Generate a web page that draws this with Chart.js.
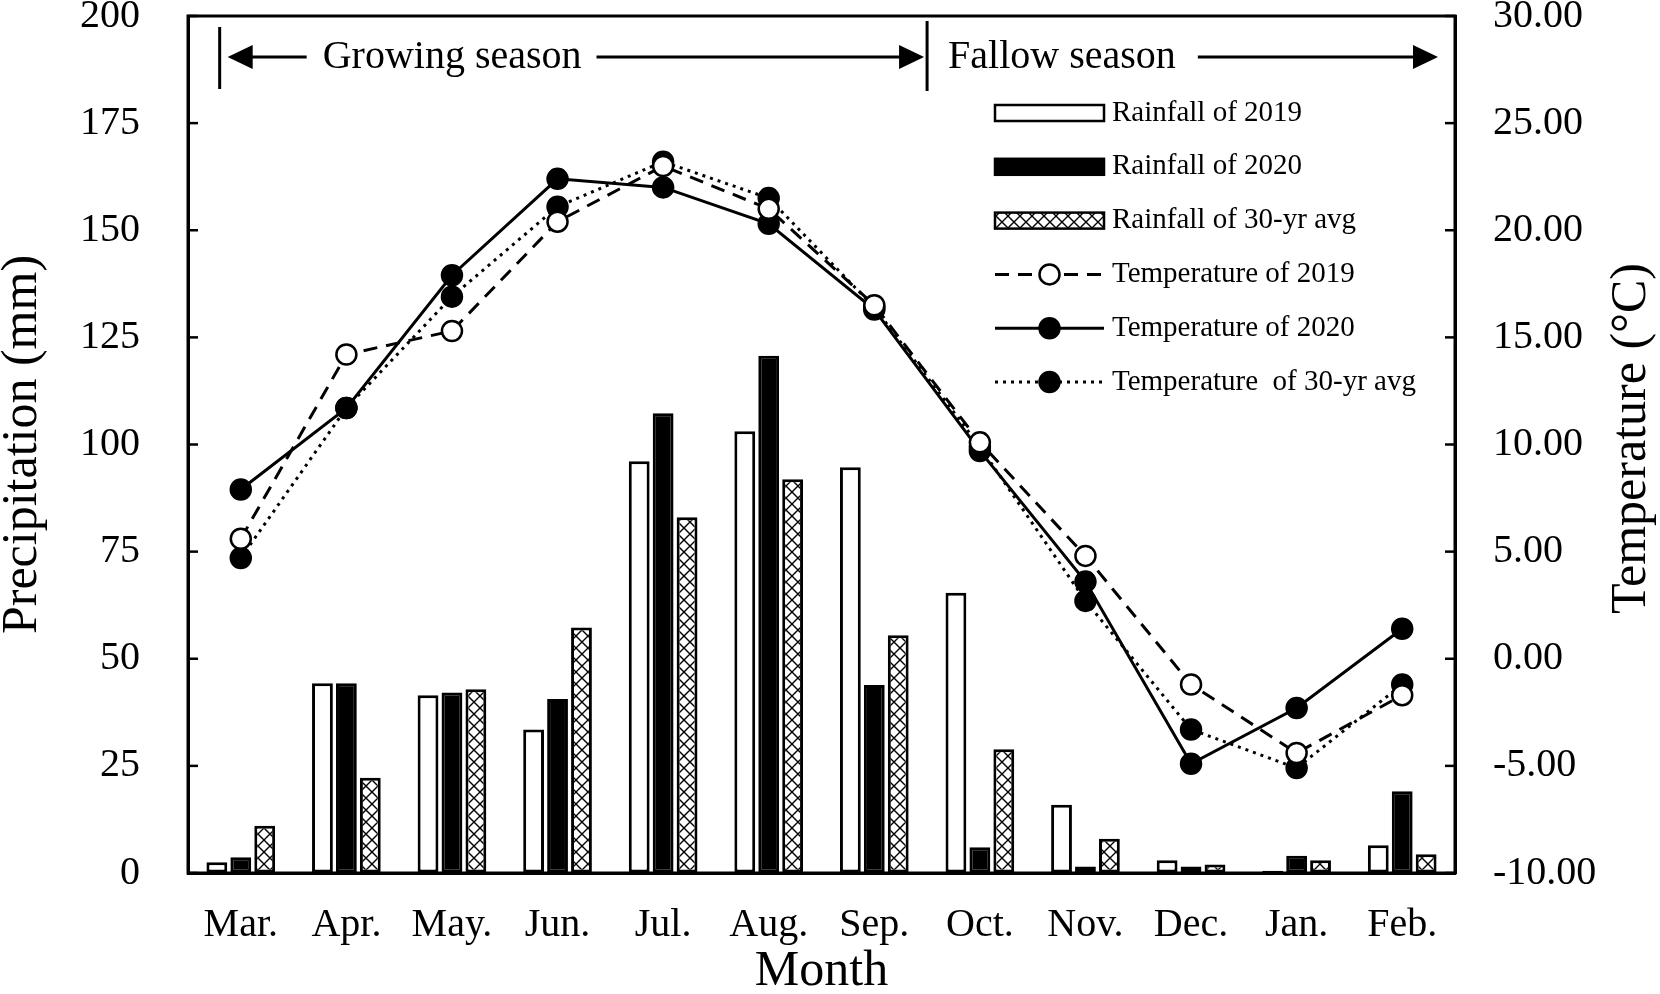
<!DOCTYPE html>
<html>
<head>
<meta charset="utf-8">
<script src="https://cdn.jsdelivr.net/npm/chart.js@4.4.1/dist/chart.umd.min.js"></script>
<style>
  body { margin: 0; background: #fff; }
  #wrap { width: 1660px; height: 994px; }
</style>
</head>
<body>
<div id="wrap"><canvas id="climate" width="1660" height="994"></canvas></div>
<script>
// months, rainfall (mm) and mean temperature (°C)
var months = ["Mar.", "Apr.", "May.", "Jun.", "Jul.", "Aug.", "Sep.", "Oct.", "Nov.", "Dec.", "Jan.", "Feb."];
var rain2019 = [2.5, 44.3, 41.5, 33.5, 96.1, 103.1, 94.7, 65.4, 15.9, 3.0, 0.5, 6.5];
var rain2020 = [3.7, 44.3, 42.1, 40.6, 107.3, 120.7, 43.9, 6.0, 1.5, 1.5, 4.0, 19.1];
var rainAvg = [11.0, 22.2, 42.9, 57.3, 83.0, 91.9, 55.5, 28.9, 8.0, 2.0, 3.0, 4.4];
var temp2019 = [5.6, 14.2, 15.3, 20.4, 23.0, 21.0, 16.5, 10.1, 4.8, -1.2, -4.4, -1.7];
var temp2020 = [7.9, 11.7, 17.9, 22.4, 22.0, 20.3, 16.3, 9.7, 3.6, -4.9, -2.3, 1.4];
var tempAvg = [4.7, 11.7, 16.9, 21.1, 23.2, 21.5, 16.4, 9.9, 2.7, -3.3, -5.1, -1.2];
var precipTicks = [0, 200, 25];
var tempTicks = [-10, 30, 5];

Chart.defaults.font.family = "'Liberation Serif', 'Times New Roman', serif";
Chart.defaults.color = "#000";

// cross hatch for the 30-yr average bars
function makeHatch() {
  var c = document.createElement("canvas");
  c.width = 12;
  c.height = 12;
  var g = c.getContext("2d");
  g.fillStyle = "#fff";
  g.fillRect(0, 0, 12, 12);
  g.strokeStyle = "#000";
  g.lineWidth = 1.4;
  g.beginPath();
  g.moveTo(0, 0); g.lineTo(12, 12);
  g.moveTo(12, 0); g.lineTo(0, 12);
  g.stroke();
  return g.createPattern(c, "repeat");
}
var hatch = makeHatch();

// box, inner ticks, season arrows, right title, legend
var decorations = {
  id: "decorations",
  afterDraw: function (chart) {
    var ctx = chart.ctx;
    var a = chart.chartArea;
    var x = chart.scales.x;
    ctx.save();
    ctx.strokeStyle = "#000";
    ctx.fillStyle = "#000";
    ctx.lineWidth = 3;
    ctx.setLineDash([]);
    ctx.strokeRect(a.left, a.top, a.right - a.left, a.bottom - a.top);

    // inward ticks
    ctx.lineWidth = 2.5;
    ["y", "y1"].forEach(function (id) {
      var s = chart.scales[id];
      s.ticks.forEach(function (t, i) {
        var py = s.getPixelForTick(i);
        ctx.beginPath();
        if (id === "y") { ctx.moveTo(a.left, py); ctx.lineTo(a.left + 10, py); }
        else { ctx.moveTo(a.right, py); ctx.lineTo(a.right - 10, py); }
        ctx.stroke();
      });
    });

    // season annotation
    function arrow(x1, x2, y) {
      var dir = x2 > x1 ? 1 : -1;
      ctx.lineWidth = 3;
      ctx.beginPath();
      ctx.moveTo(x1, y);
      ctx.lineTo(x2 - dir * 20, y);
      ctx.stroke();
      ctx.beginPath();
      ctx.moveTo(x2, y);
      ctx.lineTo(x2 - dir * 25, y - 12);
      ctx.lineTo(x2 - dir * 25, y + 12);
      ctx.closePath();
      ctx.fill();
    }
    var ay = 57;
    var b1 = x.getPixelForValue(-0.2);
    var b2 = x.getPixelForValue(6.5);
    var end = x.getPixelForValue(11.5) - 17;
    ctx.lineWidth = 3;
    ctx.beginPath();
    ctx.moveTo(b1, 27); ctx.lineTo(b1, 89);
    ctx.moveTo(b2, 21); ctx.lineTo(b2, 91);
    ctx.stroke();
    ctx.font = "40px 'Liberation Serif', serif";
    ctx.textBaseline = "middle";
    ctx.textAlign = "left";
    var g = "Growing season";
    var gx = b1 + 103;
    var gw = ctx.measureText(g).width;
    ctx.fillText(g, gx, ay);
    arrow(gx - 16, b1 + 8, ay);
    arrow(gx + gw + 15, b2 - 3, ay);
    var f = "Fallow season";
    var fx = b2 + 21;
    var fw = ctx.measureText(f).width;
    ctx.fillText(f, fx, ay);
    arrow(fx + fw + 22, end, ay);

    // right axis title, reading bottom to top
    ctx.save();
    ctx.translate(1632, (a.top + a.bottom) / 2 - 6);
    ctx.rotate(-Math.PI / 2);
    ctx.textAlign = "center";
    ctx.font = "50px 'Liberation Serif', serif";
    ctx.fillText("Temperature (\u00B0C)", 0, 0);
    ctx.restore();

    // legend
    ctx.font = "29px 'Liberation Serif', serif";
    ctx.textAlign = "left";
    chart.data.datasets.forEach(function (ds, i) {
      var cy = 113 + i * 53.8;
      var sx = 995, ex = 1104;
      if (ds.type === "line") {
        ctx.lineWidth = ds.borderWidth;
        ctx.setLineDash(ds.borderDash || []);
        ctx.beginPath();
        ctx.moveTo(sx, cy); ctx.lineTo(ex, cy);
        ctx.stroke();
        ctx.setLineDash([]);
        ctx.beginPath();
        ctx.arc((sx + ex) / 2, cy, ds.pointRadius, 0, Math.PI * 2);
        ctx.fillStyle = ds.pointBackgroundColor;
        ctx.fill();
        ctx.lineWidth = ds.pointBorderWidth;
        ctx.stroke();
      } else {
        ctx.fillStyle = ds.backgroundColor;
        ctx.fillRect(sx, cy - 8, ex - sx, 16);
        ctx.lineWidth = 2.5;
        ctx.strokeRect(sx, cy - 8, ex - sx, 16);
      }
      ctx.fillStyle = "#000";
      ctx.fillText(ds.label, 1112, cy);
    });
    ctx.restore();
  },
};

function barSet(label, data, fill) {
  return {
    type: "bar",
    label: label,
    data: data,
    yAxisID: "y",
    backgroundColor: fill,
    borderColor: "#000",
    borderWidth: 3,
    borderSkipped: false,
    categoryPercentage: 0.68,
    barPercentage: 0.87,
    order: 1,
  };
}

function lineSet(label, data, dash, pointFill) {
  return {
    type: "line",
    label: label,
    data: data,
    yAxisID: "y1",
    borderColor: "#000",
    borderWidth: 3,
    borderDash: dash,
    tension: 0,
    fill: false,
    pointRadius: 10,
    pointBackgroundColor: pointFill,
    pointBorderColor: "#000",
    pointBorderWidth: 2.5,
    order: 0,
  };
}

// fixed side widths, no extra label padding above/below the plot
function fixWidth(w) {
  return function (s) {
    s.width = w;
    s.paddingTop = 0;
    s.paddingBottom = 0;
  };
}

var ctx = document.getElementById("climate").getContext("2d");
var climateChart = new Chart(ctx, {
  type: "bar",
  data: {
    labels: months,
    datasets: [
      barSet("Rainfall of 2019", rain2019, "#fff"),
      barSet("Rainfall of 2020", rain2020, "#000"),
      barSet("Rainfall of 30-yr avg", rainAvg, hatch),
      lineSet("Temperature of 2019", temp2019, [14, 9], "#fff"),
      lineSet("Temperature of 2020", temp2020, [], "#000"),
      lineSet("Temperature  of 30-yr avg", tempAvg, [3, 5], "#000"),
    ],
  },
  options: {
    responsive: false,
    animation: false,
    layout: { padding: { top: 16, left: 0, right: 0, bottom: 0 } },
    plugins: {
      legend: { display: false },
      tooltip: { enabled: false },
    },
    scales: {
      x: {
        grid: { display: true, drawOnChartArea: false, drawTicks: false },
        border: { display: true, color: "#000", width: 3 },
        ticks: { font: { size: 40 }, padding: 28, maxRotation: 0 },
        title: { display: true, text: "Month", font: { size: 50, lineHeight: 0.9 }, padding: 0 },
        afterFit: function (s) { s.height = 121; s.paddingLeft = 0; s.paddingRight = 0; },
      },
      y: {
        position: "left",
        min: precipTicks[0],
        max: precipTicks[1],
        grid: { display: true, drawOnChartArea: false, drawTicks: false },
        border: { display: true, color: "#000", width: 3 },
        ticks: { stepSize: precipTicks[2], font: { size: 40 }, padding: 48 },
        title: { display: true, text: "Precipitation (mm)", font: { size: 50, lineHeight: 0.9 }, padding: 0 },
        afterFit: fixWidth(188),
      },
      y1: {
        position: "right",
        min: tempTicks[0],
        max: tempTicks[1],
        grid: { display: true, drawOnChartArea: false, drawTicks: false },
        border: { display: true, color: "#000", width: 3 },
        ticks: {
          stepSize: tempTicks[2],
          font: { size: 40 },
          padding: 38,
          callback: function (v) { return Number(v).toFixed(2); },
        },
        afterFit: fixWidth(205),
      },
    },
  },
  plugins: [decorations],
});
</script>
</body>
</html>
